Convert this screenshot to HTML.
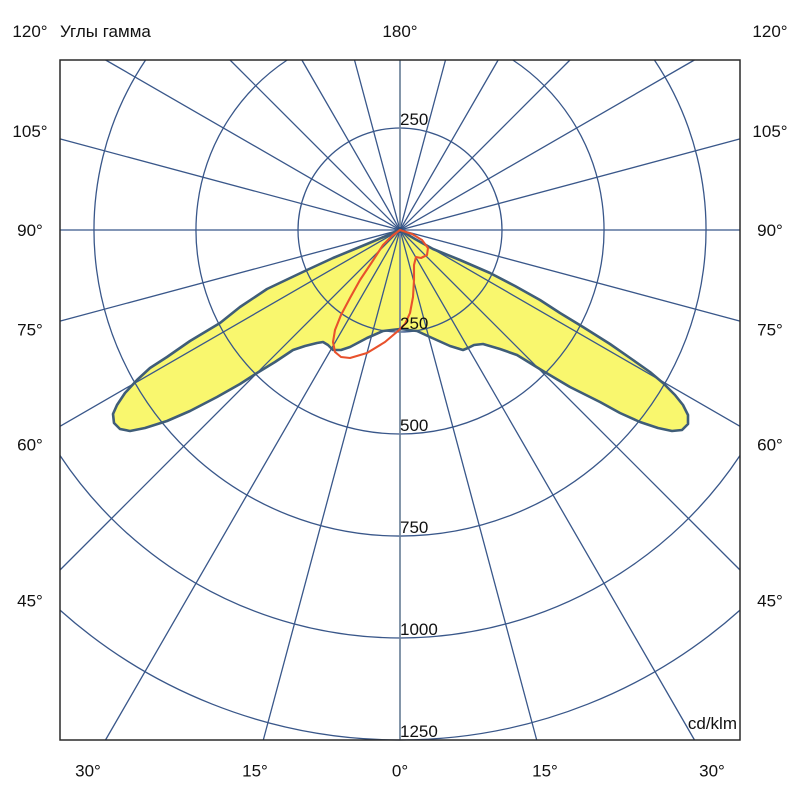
<!DOCTYPE html>
<html>
<head>
<meta charset="utf-8">
<style>
html,body{margin:0;padding:0;background:#fff;width:800px;height:800px;overflow:hidden;position:relative;}
svg{display:block;overflow:hidden;position:absolute;left:0;top:0;}
text{font-family:"Liberation Sans","DejaVu Sans",sans-serif;font-size:17px;fill:#111;}
</style>
</head>
<body>
<svg width="800" height="800" viewBox="0 0 800 800" xmlns="http://www.w3.org/2000/svg">

<!-- yellow fill -->
<path d="M400,230 L367,244 L333,258 L307,270 L267,289 L240,307 L220,323 L190,341 L167,357 L150,368 L137,380 L125,393 L117,405 L113,414 L114,423 L120,429 L130,431 L145,428 L167,421 L190,411 L217,397 L240,384 L257,373 L275,362 L293,350 L305,346 L317,343 L323,342 L328,345 L333,350 L341,350 L350,347 L367,338 L383,331 L400,329 L417,331 L430,337 L450,346 L463,350 L468,348 L474,345 L483,344 L500,349 L517,355 L543,371 L570,387 L600,402 L620,413 L640,422 L658,428 L672,431 L682,430 L688,424 L688,415 L683,405 L675,395 L663,383 L650,372 L633,360 L610,344 L583,327 L560,313 L540,300 L515,286 L490,273 L460,260 L433,249 L415,239 Z" fill="#f9f76e" stroke="none"/>

<!-- grid -->
<g fill="none" stroke="#39578a" stroke-width="1.3">
<circle cx="400" cy="230" r="102"/>
<path d="M512.8,60 A204 204 0 1 1 287.2,60"/>
<path d="M654.4,60 A306 306 0 1 1 145.6,60"/>
<path d="M740,455.5 A408 408 0 0 1 60,455.5"/>
<path d="M740,610.1 A510 510 0 0 1 60,610.1"/>
<line x1="354.5" y1="60" x2="536.7" y2="740"/>
<line x1="301.85" y1="60" x2="694.5" y2="740"/>
<line x1="230" y1="60" x2="740" y2="570"/>
<line x1="105.6" y1="60" x2="740" y2="426.3"/>
<line x1="60" y1="138.9" x2="740" y2="321.1"/>
<line x1="60" y1="230" x2="740" y2="230"/>
<line x1="60" y1="321.1" x2="740" y2="138.9"/>
<line x1="60" y1="426.3" x2="694.4" y2="60"/>
<line x1="60" y1="570" x2="570" y2="60"/>
<line x1="105.5" y1="740" x2="498.15" y2="60"/>
<line x1="263.3" y1="740" x2="445.5" y2="60"/>
<line x1="400" y1="60" x2="400" y2="740" stroke="#6f839b" stroke-width="1.7"/>
</g>
<circle cx="400" cy="230" r="3" fill="#2d4a78"/>

<!-- yellow outline -->
<path d="M400,230 L367,244 L333,258 L307,270 L267,289 L240,307 L220,323 L190,341 L167,357 L150,368 L137,380 L125,393 L117,405 L113,414 L114,423 L120,429 L130,431 L145,428 L167,421 L190,411 L217,397 L240,384 L257,373 L275,362 L293,350 L305,346 L317,343 L323,342 L328,345 L333,350 L341,350 L350,347 L367,338 L383,331 L400,329 L417,331 L430,337 L450,346 L463,350 L468,348 L474,345 L483,344 L500,349 L517,355 L543,371 L570,387 L600,402 L620,413 L640,422 L658,428 L672,431 L682,430 L688,424 L688,415 L683,405 L675,395 L663,383 L650,372 L633,360 L610,344 L583,327 L560,313 L540,300 L515,286 L490,273 L460,260 L433,249 L415,239 Z" fill="none" stroke="#3f5d78" stroke-width="2.6" stroke-linejoin="round"/>

<!-- red curve -->
<path d="M400,230 L392,236 L383,245 L372,262 L360,280 L350,298 L341,315 L335,330 L333,342 L335,352 L341,357 L350,358 L367,353 L385,342 L398,331 L405,324 L410,313 L413,297 L414,280 L414,265 L416,257 L421,258 L427,255 L428,248 L422,240 L412,234 Z" fill="none" stroke="#e8512c" stroke-width="2.1" stroke-linejoin="round"/>

<!-- box -->
<rect x="60" y="60" width="680" height="680" fill="none" stroke="#2a2a2a" stroke-width="1.5"/>

<!-- radial labels -->
<text x="400" y="125">250</text>
<text x="400" y="329">250</text>
<text x="400" y="431">500</text>
<text x="400" y="533">750</text>
<text x="400" y="635">1000</text>
<text x="400" y="737">1250</text>
<text x="737" y="729" text-anchor="end">cd/klm</text>

<!-- top labels -->
<text x="60" y="37">Углы гамма</text>
<text x="400" y="37" text-anchor="middle">180°</text>

<!-- left labels -->
<text x="30" y="37" text-anchor="middle">120°</text>
<text x="30" y="137" text-anchor="middle">105°</text>
<text x="30" y="236" text-anchor="middle">90°</text>
<text x="30" y="335.5" text-anchor="middle">75°</text>
<text x="30" y="450.5" text-anchor="middle">60°</text>
<text x="30" y="606.5" text-anchor="middle">45°</text>

<!-- right labels -->
<text x="770" y="37" text-anchor="middle">120°</text>
<text x="770" y="137" text-anchor="middle">105°</text>
<text x="770" y="236" text-anchor="middle">90°</text>
<text x="770" y="335.5" text-anchor="middle">75°</text>
<text x="770" y="450.5" text-anchor="middle">60°</text>
<text x="770" y="606.5" text-anchor="middle">45°</text>

<!-- bottom labels -->
<text x="88" y="776.5" text-anchor="middle">30°</text>
<text x="255" y="776.5" text-anchor="middle">15°</text>
<text x="400" y="776.5" text-anchor="middle">0°</text>
<text x="545" y="776.5" text-anchor="middle">15°</text>
<text x="712" y="776.5" text-anchor="middle">30°</text>
</svg>
</body>
</html>
